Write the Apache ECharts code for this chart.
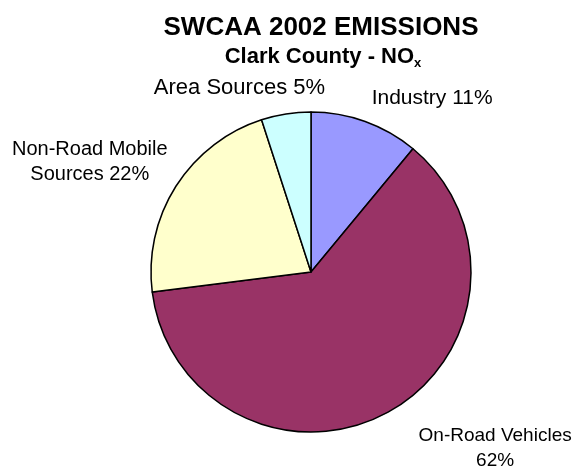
<!DOCTYPE html>
<html>
<head>
<meta charset="utf-8">
<script src="https://cdn.jsdelivr.net/npm/echarts@6/dist/echarts.min.js"></script>
<style>
html,body{margin:0;padding:0;background:#fff;}
#chart{width:573px;height:474px;}
</style>
</head>
<body>
<div id="chart"></div>
<script>
// Data (clockwise from 12 o'clock)
var categories = ['Industry', 'On-Road Vehicles', 'Non-Road Mobile Sources', 'Area Sources'];
var labelTexts = ['Industry 11%', 'On-Road Vehicles\n62%', 'Non-Road Mobile\nSources 22%', 'Area Sources 5%'];
var values = [11, 62, 22, 5];
var colors = ['#9999FF', '#993366', '#FFFFCC', '#CCFFFF'];

// label fine-tuning (style only)
var labelAdjust = [
  {dx: -7, dy: 0, align: 'left', size: 21},
  {dx: 90, dy: 14, align: 'center', size: 19},
  {dx: -60, dy: -11, align: 'center', size: 20},
  {dx: 48, dy: -1, align: 'right', size: 22}
];

var chart = echarts.init(document.getElementById('chart'), null, {renderer: 'canvas'});
var font = '"Liberation Sans", Arial, sans-serif';

var data = categories.map(function (c, i) {
  return {name: c, value: values[i], itemStyle: {color: colors[i]},
          label: {fontSize: labelAdjust[i].size}};
});

chart.setOption({
  backgroundColor: '#ffffff',
  animation: false,
  title: [
    {
      text: 'SWCAA 2002 EMISSIONS',
      left: 316, top: 10, textAlign: 'center',
      textStyle: {fontFamily: font, fontSize: 26, fontWeight: 'bold', color: '#000'}
    },
    {
      text: '{a|Clark County - NO}{b|x}',
      left: 318, top: 41, textAlign: 'center',
      textStyle: {
        fontFamily: font, color: '#000',
        rich: {
          a: {fontFamily: font, fontSize: 22, fontWeight: 'bold', color: '#000', lineHeight: 24, verticalAlign: 'top'},
          b: {fontFamily: font, fontSize: 13, fontWeight: 'bold', color: '#000', lineHeight: 13, verticalAlign: 'bottom', padding: [14, 0, 0, 0]}
        }
      }
    }
  ],
  series: [{
    type: 'pie',
    center: [311, 272],
    radius: [0, 160],
    startAngle: 90,
    clockwise: true,
    data: data,
    itemStyle: {borderColor: '#000', borderWidth: 1.5},
    label: {
      show: true,
      position: 'outside',
      fontFamily: font,
      fontSize: 21,
      lineHeight: 25,
      color: '#000',
      overflow: 'none',
      width: 300,
      formatter: function (p) { return labelTexts[p.dataIndex]; }
    },
    labelLine: {show: false, length: 25, length2: 0},
    emphasis: {disabled: true},
    labelLayout: function (p) {
      var a = labelAdjust[p.dataIndex];
      return {dx: a.dx, dy: a.dy, align: a.align, hideOverlap: false, moveOverlap: null};
    }
  }]
});
</script>
</body>
</html>
